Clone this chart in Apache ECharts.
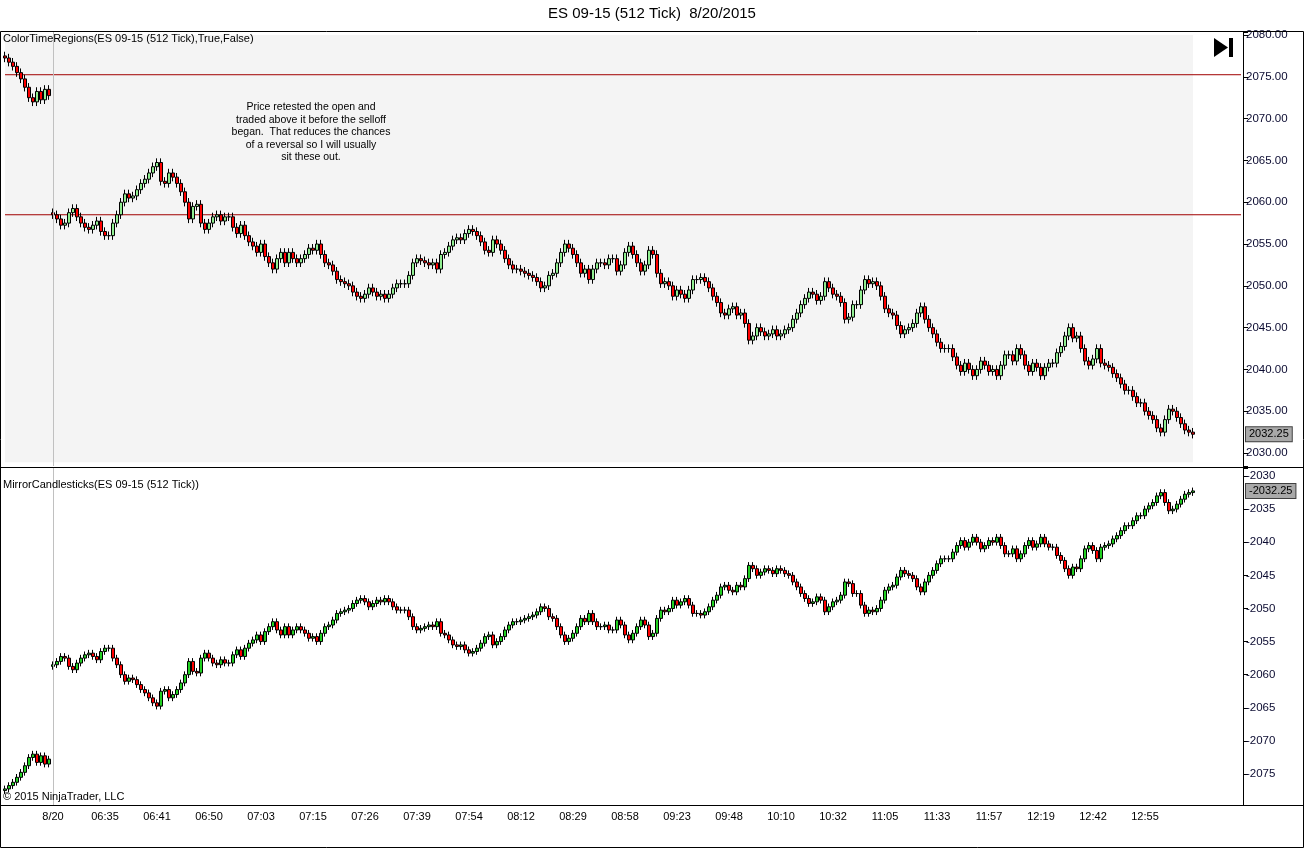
<!DOCTYPE html>
<html><head><meta charset="utf-8">
<script src="https://cdn.jsdelivr.net/npm/echarts@6/dist/echarts.min.js"></script>
<style>html,body{margin:0;padding:0;background:#fff}#c{width:1305px;height:849px}</style>
</head><body><div id="c"></div>
<script>
// ---- data (closing price of each 512-tick bar) ----
const closes = [
2077.25,2076.75,2076.25,2075.5,2074.75,2073.75,2072.5,2072.0,2073.25,2072.25,2073.5,2072.75,
2058.5,2058.0,2057.25,2057.5,2058.75,2059.25,2058.25,2057.5,2057.0,2056.75,2057.25,2057.75,2056.5,2056.0,2056.0,2057.5,2058.5,2060.0,2061.0,2060.5,2060.75,2061.5,2062.25,2062.75,2063.5,2064.25,2064.75,2062.5,
2062.25,2063.5,2063.0,2062.25,2061.25,2060.0,2058.0,2059.5,2059.75,2057.5,2056.75,2057.5,2058.25,2058.5,2057.75,2058.25,2058.25,2057.0,2056.25,2057.25,
2056.0,2055.25,2054.75,2054.0,2055.0,2053.5,2052.75,2052.0,2053.25,2054.0,2052.75,2054.0,2053.25,2052.75,2053.25,2053.75,2054.5,2054.25,2055.0,2053.75,
2052.75,2052.5,2051.75,2050.75,2050.5,2050.25,2050.0,2049.25,2048.75,2048.5,2049.0,2049.75,2049.25,2048.75,2049.0,2048.5,2049.0,2049.75,2050.25,2050.25,
2050.25,2051.25,2052.75,2053.25,2053.0,2052.75,2052.5,2052.75,2052.0,2053.75,2054.0,2054.75,2055.5,2055.75,2055.5,2056.25,2056.75,2056.5,2056.0,2055.25,
2054.25,2054.0,2055.5,2055.0,2054.25,2053.25,2052.5,2052.0,2052.0,2051.75,2051.5,2051.25,2051.0,2050.5,2049.75,2050.0,2051.25,2051.5,2052.75,2054.0,
2055.0,2054.5,2053.75,2052.75,2051.5,2052.0,2050.75,2052.0,2052.75,2052.75,2052.5,2053.25,2053.25,2051.75,2052.5,2054.0,2054.75,2053.75,2052.75,2051.75,
2052.5,2054.25,2053.75,2051.5,2050.25,2050.5,2050.0,2048.75,2049.5,2049.0,2048.5,2049.5,2050.75,2050.75,2051.0,2050.5,2049.75,2048.75,2048.0,2046.75,
2046.5,2047.25,2047.5,2046.5,2046.75,2045.5,2043.5,2044.0,2045.0,2044.5,2044.0,2044.25,2044.75,2044.0,2044.25,2044.75,2045.0,2046.0,2046.75,2047.75,
2048.5,2049.25,2049.0,2048.25,2048.75,2050.5,2049.75,2049.0,2048.75,2048.0,2046.0,2046.25,2047.75,2047.75,2049.5,2050.75,2050.25,2050.5,2050.0,2048.75,
2047.25,2046.75,2046.5,2045.25,2044.25,2044.75,2045.0,2045.5,2046.75,2047.5,2046.0,2045.0,2044.25,2043.25,2042.5,2042.5,2042.5,2041.5,2040.5,2039.75,
2040.75,2040.0,2039.25,2040.0,2041.0,2040.5,2039.75,2040.0,2039.25,2040.5,2041.75,2041.75,2041.0,2042.5,2041.75,2040.5,2039.75,2040.75,2040.25,2039.25,
2040.25,2040.75,2040.75,2042.0,2042.75,2044.0,2045.0,2043.75,2044.0,2042.5,2041.0,2040.5,2041.25,2042.5,2040.75,2040.5,2040.25,2039.5,2039.0,2038.25,
2037.5,2037.5,2036.75,2036.0,2036.0,2035.0,2034.5,2034.0,2033.0,2032.5,2034.0,2035.25,2035.0,2034.25,2033.5,2032.75,2032.5,2032.25
];
const firstOpen = 2077.5;
const sessionStartIndex = 12;
const sessionOpen = 2058.75;
const wickExtent = 0.5;
const priceLevels = [2075.25, 2058.5];
const tickLabels = ['8/20','06:35','06:41','06:50','07:03','07:15','07:26','07:39','07:54','08:12','08:29','08:58','09:23','09:48','10:10','10:32','11:05','11:33','11:57','12:19','12:42','12:55'];
const tickFirstIndex = 12, tickEvery = 13, firstBareTick = 1;
const totalSlots = 310;
const noteLines = ['Price retested the open and','traded above it before the selloff','began.  That reduces the chances','of a reversal so I will usually','sit these out.'];

// ---- build library data ----
const ohlc = closes.map((c, i) => {
  const o = i === 0 ? firstOpen : (i === sessionStartIndex ? sessionOpen : closes[i - 1]);
  return [o, c, Math.min(o, c) - wickExtent, Math.max(o, c) + wickExtent];
});
const mirror = ohlc.map(d => [-d[0], -d[1], -d[3], -d[2]]);
const cats = Array.from({length: totalSlots}, (_, i) => 's' + i);
const labelAt = {};
tickLabels.forEach((t, k) => { labelAt[tickFirstIndex + tickEvery * k] = t; });
const tickAt = new Set([firstBareTick].concat(Object.keys(labelAt).map(Number)));
const last = closes.length - 1;
const FONT = 'Liberation Sans';
const RED_LINE = '#a00000';

const chart = echarts.init(document.getElementById('c'), null, {renderer: 'canvas'});

const priceBox = (txt) => ({
  show: true, position: 'end', distance: 3, formatter: txt,
  backgroundColor: '#a9a9a9', borderColor: '#404040', borderWidth: 1,
  padding: [2, 3, 1, 3], color: '#000', fontSize: 11, fontFamily: FONT
});

// horizontal level lines drawn as flat line series through the category axis
const levelSeries = priceLevels.map(v => ({
  type: 'line', xAxisIndex: 0, yAxisIndex: 0, z: 2, silent: true,
  data: cats.map(() => v), showSymbol: false, symbol: 'none',
  lineStyle: {color: RED_LINE, width: 1}, itemStyle: {color: RED_LINE},
  emphasis: {disabled: true}
}));

chart.setOption({
  animation: false,
  textStyle: {fontFamily: FONT},
  grid: [
    {left: 3, right: 62, top: 32, height: 434},
    {left: 3, right: 62, top: 468, bottom: 44}
  ],
  xAxis: [
    {gridIndex: 0, type: 'category', data: cats, show: false, boundaryGap: true},
    {gridIndex: 1, type: 'category', data: cats, boundaryGap: true,
     axisLine: {lineStyle: {color: '#000', width: 1}},
     axisTick: {interval: (i) => tickAt.has(i), length: 6, lineStyle: {color: '#000'}},
     axisLabel: {interval: (i) => labelAt[i] !== undefined, formatter: (v, i) => labelAt[i] || '',
                 color: '#000', fontSize: 11, margin: 6, fontFamily: FONT},
     splitLine: {show: false}}
  ],
  yAxis: [
    {gridIndex: 0, type: 'value', position: 'right', min: 2028.45, max: 2080.36, splitNumber: 10,
     axisLine: {show: true, lineStyle: {color: '#000'}},
     axisTick: {show: true, length: 5, lineStyle: {color: '#000'}},
     axisLabel: {formatter: v => Math.abs(v % 5) < 1e-6 ? v.toFixed(2) : '', color: '#0a0a30', fontSize: 11.5, margin: 3, fontFamily: FONT},
     splitLine: {show: false}},
    {gridIndex: 1, type: 'value', position: 'right', min: -2079.68, max: -2028.79, splitNumber: 10,
     axisLine: {show: true, lineStyle: {color: '#000'}},
     axisTick: {show: true, length: 5, lineStyle: {color: '#000'}},
     axisLabel: {formatter: v => Math.abs(v % 5) < 1e-6 ? String(Math.round(v)) : '', color: '#0a0a30', fontSize: 11.5, margin: 3, fontFamily: FONT},
     splitLine: {show: false}}
  ],
  series: [
    {type: 'line', xAxisIndex: 0, yAxisIndex: 0, data: [], z: 0, silent: true,
     markArea: {silent: true, itemStyle: {color: '#f4f4f4'},
       data: [[{xAxis: cats[0], yAxis: 2080}, {xAxis: cats[last], yAxis: 2028.9}]]}},
    ...levelSeries,
    {type: 'line', xAxisIndex: 0, yAxisIndex: 0, data: [], z: 0, silent: true,
     markLine: {silent: true, symbol: ['none', 'none'], label: {show: false},
       lineStyle: {color: '#c0c0c0', width: 1, type: 'solid'},
       data: [{xAxis: sessionStartIndex - 0.5}]}},
    {type: 'line', xAxisIndex: 1, yAxisIndex: 1, data: [], z: 0, silent: true,
     markLine: {silent: true, symbol: ['none', 'none'], label: {show: false},
       lineStyle: {color: '#c0c0c0', width: 1, type: 'solid'},
       data: [{xAxis: sessionStartIndex - 0.5}]}},
    {type: 'candlestick', name: 'top', xAxisIndex: 0, yAxisIndex: 0, data: ohlc, barWidth: 4, z: 3,
     itemStyle: {color: '#90ee90', color0: '#ff0000', borderColor: '#000', borderColor0: '#000', borderWidth: 1},
     markLine: {silent: true, symbol: ['none', 'none'], lineStyle: {color: 'rgba(0,0,0,0)', width: 0},
       data: [{yAxis: closes[last], label: priceBox(closes[last].toFixed(2))}]}},
    {type: 'candlestick', name: 'mirror', xAxisIndex: 1, yAxisIndex: 1, data: mirror, barWidth: 4, z: 3,
     itemStyle: {color: '#22d022', color0: '#ff0000', borderColor: '#000', borderColor0: '#000', borderWidth: 1},
     markLine: {silent: true, symbol: ['none', 'none'], lineStyle: {color: 'rgba(0,0,0,0)', width: 0},
       data: [{yAxis: -closes[last], label: priceBox((-closes[last]).toFixed(2))}]}}
  ],
  graphic: [
    {type: 'rect', shape: {x: 0.5, y: 31.5, width: 1303, height: 816}, style: {fill: 'none', stroke: '#000', lineWidth: 1}, silent: true, z: 10},
    {type: 'line', shape: {x1: 0, y1: 467.5, x2: 1304, y2: 467.5}, style: {stroke: '#000', lineWidth: 1}, silent: true, z: 10},
    {type: 'line', shape: {x1: 0, y1: 805.5, x2: 1304, y2: 805.5}, style: {stroke: '#000', lineWidth: 1}, silent: true, z: 10},
    {type: 'text', x: 652, y: 14, style: {text: 'ES 09-15 (512 Tick)  8/20/2015', font: '15px ' + FONT, fill: '#000', align: 'center', verticalAlign: 'middle'}, silent: true},
    {type: 'text', x: 3, y: 39, style: {text: 'ColorTimeRegions(ES 09-15 (512 Tick),True,False)', font: '11px ' + FONT, fill: '#000', verticalAlign: 'middle'}, silent: true, z: 10},
    {type: 'text', x: 3, y: 485, style: {text: 'MirrorCandlesticks(ES 09-15 (512 Tick))', font: '11px ' + FONT, fill: '#000', verticalAlign: 'middle'}, silent: true, z: 10},
    {type: 'text', x: 3, y: 797, style: {text: '\u00a9 2015 NinjaTrader, LLC', font: '11px ' + FONT, fill: '#000', verticalAlign: 'middle'}, silent: true, z: 10},
    {type: 'text', x: 311, y: 101, style: {text: noteLines.join('\n'), font: '10.5px ' + FONT, lineHeight: 12.5, fill: '#000', align: 'center', verticalAlign: 'top'}, silent: true, z: 10},
    {type: 'polygon', shape: {points: [[1214, 38], [1214, 57], [1228, 47.5]]}, style: {fill: '#000'}, silent: true, z: 10},
    {type: 'rect', shape: {x: 1229, y: 38, width: 4, height: 19}, style: {fill: '#000'}, silent: true, z: 10}
  ]
});
</script></body></html>
